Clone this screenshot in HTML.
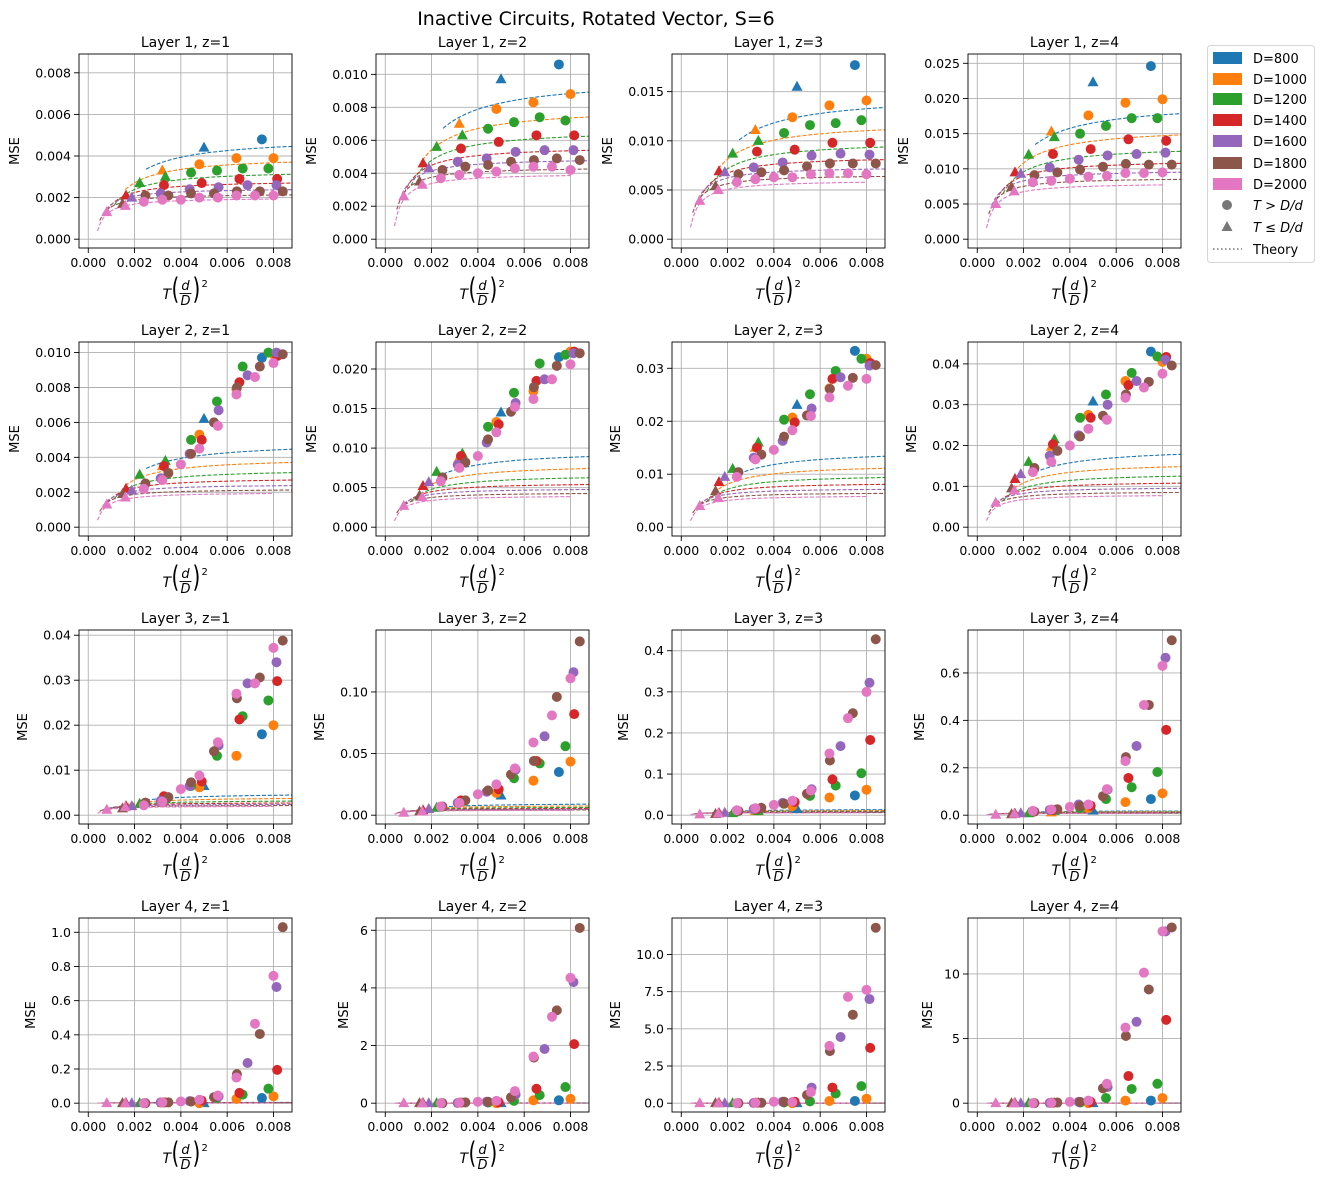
<!DOCTYPE html>
<html><head><meta charset="utf-8"><style>
html,body{margin:0;padding:0;background:#fff;}
svg{display:block;font-family:"DejaVu Sans","Liberation Sans",sans-serif;}
</style></head><body>
<svg id="fig" width="1324" height="1180" viewBox="0 0 1324 1180" xmlns="http://www.w3.org/2000/svg">
<text x="596" y="25" font-size="19" text-anchor="middle">Inactive Circuits, Rotated Vector, S=6</text>
<g id="legend">
<rect x="1207.5" y="45.5" width="107" height="217" rx="3" fill="#fff" stroke="#d5d5d5"/>
</g>
</svg>
<script>
// ---- data ----
const dLabels = ["D=800","D=1000","D=1200","D=1400","D=1600","D=1800","D=2000"];
const xsD0 = [0.0050,0.0075];
const xsD1 = [0.0032,0.0048,0.0064,0.0080];
const xsD2 = [0.00222,0.00333,0.00444,0.00556,0.00667,0.00778];
const xsD3 = [0.00163,0.00327,0.0049,0.00653,0.00816];
const xsD4 = [0.00188,0.00313,0.00438,0.00563,0.00688,0.00813];
const xsD5 = [0.00148,0.00247,0.00346,0.00444,0.00543,0.00642,0.00741,0.0084];
const xsD6 = [0.0008,0.0016,0.0024,0.0032,0.0040,0.0048,0.0056,0.0064,0.0072,0.0080];
const triCount = [1,1,2,1,1,1,2];
const thA = [0.0049,0.0040,0.00334,0.00283,0.00247,0.0022,0.00201];
const thC = [3.84e-6,2.58e-6,1.9e-6,1.175e-6,7.94e-7,6.44e-7,6.44e-7];
const thX0 = [0.0025,0.0016,0.00111,0.00082,0.000625,0.000494,0.0004];
const thX1 = [0.0088,0.0088,0.0088,0.0088,0.0088,0.0088,0.0080];

const L1z1 = [[0.0044,0.0048],[0.0033,0.0036,0.0039,0.0039],[0.0027,0.0030,0.0032,0.0033,0.0034,0.0034],[0.0021,0.0026,0.0027,0.0029,0.0029],[0.0020,0.0022,0.0024,0.0025,0.0026,0.0026],[0.0017,0.0021,0.0021,0.0022,0.0022,0.0023,0.0023,0.0023],[0.0013,0.0016,0.0018,0.0019,0.0019,0.0020,0.0020,0.0021,0.0021,0.0021]];
const L1z2 = [[0.0097,0.0106],[0.0070,0.0079,0.0083,0.0088],[0.0056,0.0063,0.0067,0.0071,0.0074,0.0072],[0.0046,0.0055,0.0059,0.0063,0.0063],[0.0043,0.0047,0.0049,0.0053,0.0054,0.0054],[0.0035,0.0042,0.0044,0.0045,0.0047,0.0048,0.0049,0.0048],[0.0026,0.0033,0.0037,0.0039,0.0040,0.0041,0.0043,0.0044,0.0044,0.0042]];
const L1z3 = [[0.0155,0.0177],[0.0111,0.0124,0.0136,0.0141],[0.0087,0.0100,0.0108,0.0116,0.0118,0.0121],[0.0069,0.0089,0.0091,0.0098,0.0098],[0.0068,0.0073,0.0078,0.0085,0.0087,0.0086],[0.0054,0.0066,0.0068,0.0070,0.0074,0.0077,0.0077,0.0077],[0.0039,0.0050,0.0058,0.0061,0.0063,0.0063,0.0066,0.0067,0.0067,0.0066]];
const L1z4 = [[0.0223,0.0246],[0.0153,0.0176,0.0194,0.0199],[0.0120,0.0145,0.0150,0.0161,0.0172,0.0172],[0.0095,0.0121,0.0128,0.0142,0.0140],[0.0093,0.0102,0.0113,0.0119,0.0121,0.0123],[0.0074,0.0091,0.0095,0.0099,0.0103,0.0107,0.0106,0.0106],[0.0050,0.0068,0.0081,0.0083,0.0086,0.0089,0.0090,0.0094,0.0094,0.0095]];
const L2z1 = [[0.0062,0.0097],[0.0035,0.0053,0.0079,0.0099],[0.0030,0.0038,0.0050,0.0072,0.0092,0.0100],[0.0022,0.0035,0.0050,0.0083,0.0098],[0.0021,0.0028,0.0042,0.0067,0.0087,0.0100],[0.0019,0.0025,0.0031,0.0042,0.0060,0.0080,0.0092,0.0099],[0.0013,0.0017,0.0022,0.0027,0.0036,0.0045,0.0058,0.0076,0.0086,0.0094]];
const L2z2 = [[0.0145,0.0215],[0.0088,0.0133,0.0172,0.0222],[0.0070,0.0093,0.0127,0.0170,0.0207,0.0218],[0.0052,0.0090,0.0130,0.0185,0.0222],[0.0057,0.0079,0.0107,0.0157,0.0187,0.0220],[0.0040,0.0063,0.0082,0.0111,0.0146,0.0177,0.0204,0.0220],[0.0027,0.0038,0.0058,0.0075,0.0090,0.0120,0.0152,0.0162,0.0187,0.0206]];
const L2z3 = [[0.0231,0.0333],[0.0150,0.0207,0.0262,0.0318],[0.0110,0.0160,0.0203,0.0251,0.0295,0.0318],[0.0085,0.0150,0.0198,0.0280,0.0310],[0.0095,0.0131,0.0163,0.0224,0.0283,0.0305],[0.0068,0.0104,0.0137,0.0171,0.0211,0.0261,0.0282,0.0306],[0.0040,0.0055,0.0095,0.0128,0.0146,0.0183,0.0210,0.0245,0.0267,0.0280]];
const L2z4 = [[0.0308,0.0430],[0.0197,0.0275,0.0358,0.0405],[0.0160,0.0215,0.0268,0.0325,0.0378,0.0418],[0.0118,0.0203,0.0268,0.0348,0.0417],[0.0130,0.0175,0.0225,0.0300,0.0358,0.0410],[0.0095,0.0145,0.0187,0.0222,0.0273,0.0325,0.0356,0.0396],[0.0060,0.0090,0.0135,0.0160,0.0200,0.0241,0.0263,0.0317,0.0342,0.0376]];
const L3z1 = [[0.0065,0.0180],[0.0040,0.0062,0.0132,0.0200],[0.0025,0.0035,0.0065,0.0132,0.0220,0.0255],[0.0020,0.0042,0.0075,0.0213,0.0298],[0.0020,0.0032,0.0065,0.0155,0.0293,0.0340],[0.0015,0.0028,0.0040,0.0073,0.0142,0.0260,0.0306,0.0388],[0.0012,0.0018,0.0022,0.0030,0.0058,0.0088,0.0162,0.0270,0.0293,0.0372]];
const L3z2 = [[0.0160,0.0350],[0.0100,0.0180,0.0280,0.0435],[0.0060,0.0110,0.0200,0.0300,0.0420,0.0560],[0.0040,0.0120,0.0210,0.0440,0.0820],[0.0050,0.0100,0.0190,0.0370,0.0640,0.1160],[0.0030,0.0070,0.0120,0.0200,0.0330,0.0440,0.0960,0.1410],[0.0020,0.0030,0.0070,0.0100,0.0170,0.0250,0.0380,0.0590,0.0810,0.1110]];
const L3z3 = [[0.015,0.048],[0.010,0.022,0.043,0.062],[0.005,0.010,0.028,0.047,0.072,0.102],[0.005,0.015,0.032,0.087,0.183],[0.006,0.015,0.030,0.063,0.168,0.322],[0.003,0.010,0.018,0.028,0.052,0.133,0.248,0.428],[0.002,0.004,0.012,0.017,0.025,0.035,0.060,0.150,0.236,0.300]];
const L3z4 = [[0.020,0.068],[0.012,0.030,0.055,0.092],[0.008,0.018,0.030,0.068,0.118,0.182],[0.006,0.022,0.040,0.157,0.360],[0.008,0.022,0.045,0.108,0.292,0.664],[0.004,0.015,0.025,0.038,0.080,0.245,0.465,0.738],[0.002,0.006,0.018,0.024,0.035,0.045,0.110,0.228,0.465,0.630]];
const L4z1 = [[0.0,0.03],[0.0,0.0,0.025,0.040],[0.0,0.0,0.01,0.03,0.05,0.085],[0.0,0.005,0.015,0.06,0.195],[0.0,0.005,0.012,0.04,0.235,0.68],[0.0,0.0,0.005,0.01,0.035,0.17,0.405,1.03],[0.0,0.0,0.0,0.005,0.01,0.02,0.045,0.15,0.465,0.745]];
const L4z2 = [[0.0,0.1],[0.0,0.0,0.1,0.15],[0.0,0.0,0.02,0.08,0.28,0.56],[0.0,0.02,0.03,0.5,2.05],[0.0,0.01,0.05,0.3,1.88,4.2],[0.0,0.0,0.03,0.05,0.2,1.58,3.22,6.08],[0.0,0.0,0.0,0.02,0.05,0.08,0.42,1.62,3.0,4.35]];
const L4z3 = [[0.0,0.15],[0.0,0.0,0.15,0.3],[0.0,0.0,0.05,0.12,0.65,1.15],[0.0,0.03,0.1,1.05,3.72],[0.0,0.02,0.1,1.05,4.45,7.0],[0.0,0.0,0.03,0.1,0.55,3.5,5.95,11.8],[0.0,0.0,0.0,0.03,0.1,0.08,0.75,3.85,7.15,7.62]];
const L4z4 = [[0.0,0.2],[0.0,0.0,0.2,0.4],[0.0,0.0,0.05,0.4,1.1,1.5],[0.0,0.03,0.1,2.1,6.45],[0.0,0.02,0.1,1.25,6.3,13.3],[0.0,0.0,0.05,0.1,1.15,5.2,8.8,13.6],[0.0,0.0,0.0,0.03,0.1,0.2,1.5,5.85,10.1,13.3]];

const panelMax = [0.00848,0.0107,0.01793,0.02507, 0.0101,0.0223,0.0333,0.0432, 0.0392,0.1431,0.429,0.744, 1.032,6.12,11.86,13.65];
const yTicks = [
 [0,0.002,0.004,0.006,0.008],[0,0.002,0.004,0.006,0.008,0.010],[0,0.005,0.010,0.015],[0,0.005,0.010,0.015,0.020,0.025],
 [0,0.002,0.004,0.006,0.008,0.010],[0,0.005,0.010,0.015,0.020],[0,0.01,0.02,0.03],[0,0.01,0.02,0.03,0.04],
 [0,0.01,0.02,0.03,0.04],[0,0.05,0.10],[0,0.1,0.2,0.3,0.4],[0,0.2,0.4,0.6],
 [0,0.2,0.4,0.6,0.8,1.0],[0,2,4,6],[0,2.5,5.0,7.5,10.0],[0,5,10]];
const yDec = [3,3,3,3, 3,3,2,2, 2,2,1,1, 1,0,1,0];
const xTicks = [0,0.002,0.004,0.006,0.008];
const panelData = [L1z1,L1z2,L1z3,L1z4,L2z1,L2z2,L2z3,L2z4,L3z1,L3z2,L3z3,L3z4,L4z1,L4z2,L4z3,L4z4];
const xsAll = [xsD0,xsD1,xsD2,xsD3,xsD4,xsD5,xsD6];

// ---- drawing ----
const colors = ["#1f77b4","#ff7f0e","#2ca02c","#d62728","#9467bd","#8c564b","#e377c2"];
const NS = "http://www.w3.org/2000/svg";
const svg = document.getElementById('fig');
const LEFTS = [79,376,672,968], W = 213, H = 194, XMIN = -0.0004, XMAX = 0.0088;
function mk(tag, attrs, parent){ const e=document.createElementNS(NS,tag); for(const k in attrs) e.setAttribute(k,attrs[k]); (parent||svg).appendChild(e); return e; }

for(let p=0;p<16;p++){
  const r=Math.floor(p/4), c=p%4, z=c+1;
  const L=LEFTS[c], T=54+288*r, B=T+H;
  const M=panelMax[p], ymin=-0.05*M, ymax=1.05*M;
  const sx=x=>L+(x-XMIN)/(XMAX-XMIN)*W;
  const sy=y=>B-(y-ymin)/(ymax-ymin)*H;
  const g=mk('g',{});
  
  
  const cp=mk('clipPath',{id:'cp'+p},g); mk('rect',{x:L,y:T,width:W,height:H},cp);
  const t=mk('text',{x:L+W/2,y:T-7,'font-size':14,'text-anchor':'middle'},g);
  t.textContent='Layer '+(r+1)+', z='+z;
  
  
  xTicks.forEach(v=>{
    const X=sx(v);
    const gl=mk('line',{x1:X,x2:X,y1:T,y2:B,stroke:'#b0b0b0','stroke-width':0.9},g);
    
    
    mk('line',{x1:X,x2:X,y1:B,y2:B+5,stroke:'#000','stroke-width':0.9},g);
    const tl=mk('text',{x:X,y:B+19,'font-size':12.5,'text-anchor':'middle'},g);
    tl.textContent=v.toFixed(3);
    
    
  });
  let maxLen=0;
  yTicks[p].forEach(v=>{
    const Y=sy(v);
    const gl=mk('line',{x1:L,x2:L+W,y1:Y,y2:Y,stroke:'#b0b0b0','stroke-width':0.9},g);
    
    
    mk('line',{x1:L-5,x2:L,y1:Y,y2:Y,stroke:'#000','stroke-width':0.9},g);
    const s=v.toFixed(yDec[p]); maxLen=Math.max(maxLen,s.length);
    const tl=mk('text',{x:L-8,y:Y+4.5,'font-size':12.5,'text-anchor':'end'},g);
    tl.textContent=s;
    
    
  });
  const yl=mk('text',{x:0,y:0,'font-size':13,'text-anchor':'middle',transform:'translate('+(L-20-8*maxLen)+','+(T+H/2)+') rotate(-90)'},g);
  yl.textContent='MSE';
  
  
  // x label T(d/D)^2
  const cx=L+W/2;
  const xl=mk('g',{},g);
  
  
  const tT=mk('text',{x:cx-23,y:B+51,'font-size':14,'font-style':'italic'},xl); tT.textContent='T';
  const pL=mk('text',{x:0,y:0,'font-size':20,transform:'translate('+(cx-14)+','+(B+51)+') scale(1,1.45)'},xl); pL.textContent='(';
  const td=mk('text',{x:cx,y:B+42,'font-size':13,'font-style':'italic','text-anchor':'middle'},xl); td.textContent='d';
  const tD=mk('text',{x:cx,y:B+57,'font-size':13,'font-style':'italic','text-anchor':'middle'},xl); tD.textContent='D';
  mk('line',{x1:cx-6,x2:cx+6,y1:B+45.5,y2:B+45.5,stroke:'#000','stroke-width':0.9},xl);
  const pR=mk('text',{x:0,y:0,'font-size':20,transform:'translate('+(cx+7)+','+(B+51)+') scale(1,1.45)'},xl); pR.textContent=')';
  const t2=mk('text',{x:cx+16,y:B+39,'font-size':10},xl); t2.textContent='2';
  // theory lines
  const pg=mk('g',{'clip-path':'url(#cp'+p+')'},g);
  for(let d=0;d<7;d++){
    let pts=[];
    for(let i=0;i<=60;i++){
      const x=thX0[d]+(thX1[d]-thX0[d])*i/60;
      const y=z*(thA[d]-thC[d]/x);
      pts.push(sx(x).toFixed(1)+','+sy(y).toFixed(1));
    }
    const pl=mk('polyline',{points:pts.join(' '),fill:'none',stroke:colors[d],'stroke-width':1.1,'stroke-dasharray':'4,1.8'},pg);
    
    
  }
  // scatter
  const sg=mk('g',{},g);
  for(let d=0;d<7;d++){
    const xs=xsAll[d], ys=panelData[p][d];
    for(let i=0;i<xs.length;i++){
      const X=sx(xs[i]), Y=sy(ys[i]);
      let m;
      if(i<triCount[d]){
        m=mk('polygon',{points:X+','+(Y-6)+' '+(X-5.5)+','+(Y+4)+' '+(X+5.5)+','+(Y+4),fill:colors[d]},sg);
      } else {
        m=mk('circle',{cx:X,cy:Y,r:5,fill:colors[d]},sg);
      }
      
      
    }
  }
  const fr=mk('rect',{x:L,y:T,width:W,height:H,fill:'none',stroke:'#000','stroke-width':0.9},g);
  
  
}

// legend
const lg=document.getElementById('legend');
const rowsY=[58,79,99,120,141,163,184,205,227,249];
for(let d=0;d<7;d++){
  const e=mk('g',{},lg);
  
  
  mk('rect',{x:1213,y:rowsY[d]-6,width:29,height:12,fill:colors[d]},e);
  const t=mk('text',{x:1253,y:rowsY[d]+5,'font-size':13},e); t.textContent=dLabels[d];
}
{
  const e=mk('g',{},lg);
  
  
  mk('circle',{cx:1227,cy:rowsY[7],r:5,fill:'#777'},e);
  const t=mk('text',{x:1253,y:rowsY[7]+5,'font-size':13,'font-style':'italic'},e); t.textContent='T > D/d';
}
{
  const e=mk('g',{},lg);
  
  
  const Y=rowsY[8];
  mk('polygon',{points:'1227,'+(Y-6)+' 1221.5,'+(Y+4)+' 1232.5,'+(Y+4),fill:'#777'},e);
  const t=mk('text',{x:1253,y:Y+5,'font-size':13,'font-style':'italic'},e); t.textContent='T ≤ D/d';
}
{
  const e=mk('g',{},lg);
  
  
  const Y=rowsY[9];
  mk('line',{x1:1213,x2:1242,y1:Y,y2:Y,stroke:'#777','stroke-width':1.5,'stroke-dasharray':'1.5,2.5'},e);
  const t=mk('text',{x:1253,y:Y+5,'font-size':13},e); t.textContent='Theory';
}
</script>
</body></html>
